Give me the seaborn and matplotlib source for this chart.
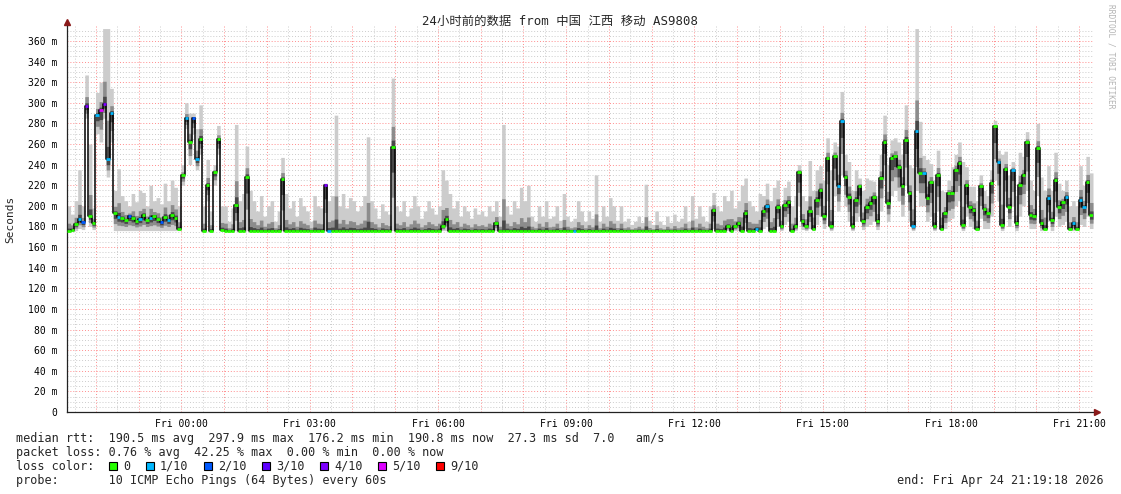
import numpy as np
import pandas as pd
import matplotlib
matplotlib.use('Agg')
import matplotlib.pyplot as plt
import matplotlib.dates as mdates
from matplotlib.ticker import MultipleLocator, FuncFormatter
from matplotlib.patches import Rectangle
import seaborn as sns

# one sample every 5 minutes, Thu 21:19 -> Fri 21:19 (values in ms)
rtt_median = [
    176, 177, 182, 187, 184, 297, 190, 183, 288, 293, 299, 245, 290,
    193, 189, 188, 186, 190, 188, 185, 187, 191, 186, 188, 190, 187, 184, 189, 186, 191, 188,
    178, 230, 285, 262, 285, 245, 265, 176, 220, 176, 233, 265, 177,
    176, 176, 176, 201, 176, 176, 228,
    176, 176, 176, 176, 176, 176, 176, 176, 176, 226,
    176, 176, 176, 176, 176, 176, 176, 176, 176, 176, 176, 220,
    176, 176, 176, 176, 176, 176, 176, 176, 176, 176, 176, 176, 176, 176, 176, 176, 176, 176, 257,
    176, 176, 176, 176, 176, 176, 176, 176, 176, 176, 176, 176, 176, 180, 187,
    176, 176, 176, 176, 176, 176, 176, 176, 176, 176, 176, 176, 176, 183,
    176, 176, 176, 176, 176, 176, 176, 176, 176, 176,
    176, 176, 176, 176, 176, 176, 176, 176, 176, 176,
    176, 176, 176, 176, 176, 176, 176, 176, 176, 176,
    176, 176, 176, 176, 176, 176, 176, 176, 176, 176,
    176, 176, 176, 176, 176, 176, 176, 176, 176, 176,
    176, 176, 176, 176, 176, 176, 176, 176, 176, 176,
    196, 176, 176, 176, 180, 176, 180, 183, 176, 193, 176, 176,
    178, 176, 195, 200, 176, 176, 199, 180, 201, 204, 176, 180,
    233, 185, 180, 195, 178, 206, 215, 190, 246, 180,
    248, 219, 282, 228, 209, 180, 206, 219, 185, 199,
    203, 209, 185, 227, 262, 203, 246, 248, 238, 219,
    264, 212, 180, 273, 232, 232, 208, 223, 180, 230,
    178, 193, 212, 212, 235, 242, 181, 220, 199, 196,
    178, 219, 197, 193, 222, 277, 243, 181, 236, 199,
    235, 183, 220, 230, 262, 191, 190, 256, 183, 178,
    208, 186, 225, 199, 204, 209, 178, 183, 178, 206,
    199, 223, 191,
]

rtt_low = [
    175, 175, 176, 178, 177, 285, 180, 177, 270, 262, 285, 228, 262,
    176, 176, 176, 176, 176, 176, 176, 176, 176, 176, 176, 176, 176, 176, 176, 176, 176, 176,
    176, 220, 275, 240, 270, 235, 250, 176, 205, 176, 220, 250, 176,
    176, 176, 176, 176, 176, 176, 176,
    176, 176, 176, 176, 176, 176, 176, 176, 176, 176,
    176, 176, 176, 176, 176, 176, 176, 176, 176, 176, 176, 176,
    176, 176, 176, 176, 176, 176, 176, 176, 176, 176, 176, 176, 176, 176, 176, 176, 176, 176, 176,
    176, 176, 176, 176, 176, 176, 176, 176, 176, 176, 176, 176, 176, 176, 176,
    176, 176, 176, 176, 176, 176, 176, 176, 176, 176, 176, 176, 176, 176,
    176, 176, 176, 176, 176, 176, 176, 176, 176, 176,
    176, 176, 176, 176, 176, 176, 176, 176, 176, 176,
    176, 176, 176, 176, 176, 176, 176, 176, 176, 176,
    176, 176, 176, 176, 176, 176, 176, 176, 176, 176,
    176, 176, 176, 176, 176, 176, 176, 176, 176, 176,
    176, 176, 176, 176, 176, 176, 176, 176, 176, 176,
    178, 176, 176, 176, 176, 176, 176, 176, 176, 178, 176, 176,
    176, 176, 178, 180, 176, 176, 180, 176, 182, 185, 176, 176,
    200, 177, 176, 178, 176, 182, 190, 178, 205, 176,
    210, 195, 230, 200, 185, 176, 185, 190, 177, 180,
    182, 185, 177, 195, 225, 185, 210, 215, 205, 190,
    220, 185, 176, 215, 200, 200, 185, 190, 176, 195,
    176, 178, 185, 188, 200, 205, 176, 190, 180, 178,
    176, 188, 178, 178, 190, 225, 205, 176, 200, 180,
    200, 176, 190, 200, 215, 178, 178, 210, 176, 176,
    185, 176, 190, 180, 182, 185, 176, 176, 176, 182,
    180, 190, 178,
]

rtt_high = [
    200, 192, 205, 235, 200, 327, 260, 198, 310, 320, 372, 372, 314,
    215, 236, 210, 205, 200, 212, 204, 215, 213, 200, 220, 205, 208, 202, 222, 205, 225, 218,
    200, 240, 300, 290, 290, 275, 298, 200, 245, 195, 240, 278, 200,
    200, 185, 198, 279, 205, 212, 258,
    215, 205, 195, 210, 190, 200, 205, 185, 195, 247,
    212, 198, 205, 190, 208, 200, 195, 185, 210, 200, 198, 222,
    205, 210, 288, 200, 212, 198, 208, 205, 195, 200, 210, 267, 205, 198, 188, 202, 195, 192, 324,
    200, 195, 205, 190, 198, 210, 200, 188, 195, 205, 198, 192, 200, 235, 225,
    212, 198, 205, 190, 200, 195, 188, 198, 192, 195, 190, 200, 195, 205,
    190, 279, 200, 192, 205, 198, 218, 205, 220, 190,
    185, 200, 190, 205, 188, 190, 200, 186, 212, 190,
    185, 188, 205, 195, 185, 195, 188, 230, 185, 200,
    190, 208, 200, 186, 200, 185, 188, 182, 185, 190,
    184, 221, 186, 182, 195, 185, 182, 190, 184, 192,
    185, 188, 200, 185, 210, 188, 200, 190, 185, 200,
    213, 200, 195, 210, 205, 215, 198, 205, 220, 227, 205, 200,
    195, 212, 210, 222, 205, 218, 225, 200, 218, 224, 200, 210,
    240, 210, 205, 244, 215, 235, 239, 225, 266, 235,
    262, 258, 311, 250, 243, 215, 235, 227, 215, 227,
    225, 224, 210, 250, 288, 240, 264, 266, 262, 250,
    298, 240, 237, 372, 282, 249, 245, 241, 225, 254,
    215, 214, 225, 238, 250, 262, 243, 238, 219, 219,
    205, 230, 215, 210, 235, 283, 254, 250, 253, 230,
    243, 210, 252, 248, 272, 225, 215, 280, 228, 215,
    239, 215, 252, 222, 215, 225, 200, 205, 200, 239,
    220, 248, 232,
]

# samples with packet loss (index into the series, lost pings out of 10)
loss_index = [3, 4, 5, 8, 9, 10, 11, 12, 14, 17, 20, 23, 26, 28, 33, 35, 36, 72, 73,
              142, 193, 196, 216, 217, 237, 238, 240, 261, 265, 275, 280, 282, 284, 285]
loss_count = [1, 2, 4, 1, 5, 4, 1, 1, 1, 2, 1, 1, 2, 1, 1, 2, 1, 4, 1,
              1, 1, 1, 1, 1, 1, 1, 1, 1, 1, 1, 1, 1, 1, 1]

loss_labels = ['0', '1/10', '2/10', '3/10', '4/10', '5/10', '9/10']
loss_colors = ['#26ff00', '#00b8ff', '#0059ff', '#5e00ff', '#7e00ff', '#dd00ff', '#ff0000']

title = '24小时前的数据 from 中国 江西 移动 AS9808'
line_rtt = 'median rtt:  190.5 ms avg  297.9 ms max  176.2 ms min  190.8 ms now  27.3 ms sd  7.0   am/s'
line_loss = 'packet loss: 0.76 % avg  42.25 % max  0.00 % min  0.00 % now'
line_probe = 'probe:       10 ICMP Echo Pings (64 Bytes) every 60s'
line_end = 'end: Fri Apr 24 21:19:18 2026'

sns.set_theme(style='white')
plt.rcParams['font.family'] = ['DejaVu Sans Mono', 'Noto Sans CJK SC']

W, H = 1121, 494
fig = plt.figure(figsize=(W / 100, H / 100), dpi=100)
ax = fig.add_axes([67 / W, 1 - 412 / H, (1093 - 67) / W, (412 - 26) / H])


def fx(px):
    return px / W


def fy(py):
    return 1 - py / H


med = np.array(rtt_median, dtype=float)
lo = np.array(rtt_low, dtype=float)
hi = np.array(rtt_high, dtype=float)

times = pd.date_range('2026-04-23 21:19:18', periods=len(med) + 1, freq='5min')
edges = mdates.date2num(times.to_pydatetime())


def ext(a):
    return np.append(a, a[-1])


# smoke: light outer range, darker bands closer to the median
bands = [(1.0, 1.0, '#cccccc'), (0.6, 0.3, '#8c8c8c'), (0.3, 0.1, '#484848')]
for f_lo, f_hi, col in bands:
    b_lo = med - f_lo * (med - lo)
    b_hi = med + f_hi * (hi - med)
    ax.fill_between(edges, ext(b_lo), ext(b_hi), step='post', color=col, lw=0, zorder=2)

sns.lineplot(x=edges, y=ext(med), drawstyle='steps-post', color='black', lw=1.1,
             estimator=None, ax=ax, zorder=3)

seg_colors = [loss_colors[0]] * len(med)
for i, n in zip(loss_index, loss_count):
    seg_colors[i] = loss_colors[n] if n <= 5 else loss_colors[6]
ax.hlines(med, edges[:-1], edges[1:], colors=seg_colors, lw=2.0, zorder=4)

ax.set_xlim(edges[0], edges[-1])
ax.set_ylim(0, 374.5)

ax.xaxis.set_major_locator(mdates.HourLocator(byhour=range(24)))
ax.xaxis.set_minor_locator(mdates.MinuteLocator(byminute=[30]))


def xfmt(v, pos):
    d = mdates.num2date(round(v * 24) / 24)
    return d.strftime('%a %H:%M') if d.hour % 3 == 0 else ''


ax.xaxis.set_major_formatter(FuncFormatter(xfmt))
ax.yaxis.set_major_locator(MultipleLocator(20))
ax.yaxis.set_minor_locator(MultipleLocator(5))
ax.yaxis.set_major_formatter(FuncFormatter(lambda v, p: '0' if v == 0 else f'{int(v)} m'))

ax.grid(which='major', color='#ff8c8c', lw=0.7, ls=(0, (1, 2)), zorder=0)
ax.grid(which='minor', color='#cccccc', lw=0.7, ls=(0, (1, 2)), zorder=0)
ax.set_axisbelow(True)

ax.tick_params(axis='both', which='major', labelsize=7, length=3, width=0.7, pad=2,
               colors='black')
ax.tick_params(axis='x', which='major', color='#ff8c8c')
ax.tick_params(axis='both', which='minor', length=2, color='#bbbbbb')
ax.tick_params(axis='y', which='major', color='#555555', pad=4)

for s in ['top', 'right']:
    ax.spines[s].set_visible(False)
for s in ['left', 'bottom']:
    ax.spines[s].set_color('#222222')
    ax.spines[s].set_linewidth(0.9)
ax.spines['bottom'].set_zorder(6)

ax.plot([0], [1.01], marker='^', ms=4, color='#8b1a1a', transform=ax.transAxes, clip_on=False)
ax.plot([1.004], [0], marker='>', ms=4, color='#8b1a1a', transform=ax.transAxes, clip_on=False)

ax.set_xlabel('')
ax.set_ylabel('')
fig.text(fx(10), fy(219), 'Seconds', rotation=90, ha='center', va='center', fontsize=8)
fig.text(0.5, fy(21), title, ha='center', va='center', fontsize=8.9)
fig.text(fx(1111), fy(4), 'RRDTOOL / TOBI OETIKER', rotation=270, ha='center', va='top',
         fontsize=5.7, color='#b4b4b4')

fs = 8.5
fig.text(fx(16), fy(438), line_rtt, ha='left', va='center', fontsize=fs)
fig.text(fx(16), fy(452), line_loss, ha='left', va='center', fontsize=fs)
fig.text(fx(16), fy(466), 'loss color:', ha='left', va='center', fontsize=fs)
fig.text(fx(16), fy(480), line_probe, ha='left', va='center', fontsize=fs)
fig.text(fx(1104), fy(480), line_end, ha='right', va='center', fontsize=fs)

swatch_px = [109, 146, 204, 262, 320, 378, 436]
for px, lab, col in zip(swatch_px, loss_labels, loss_colors):
    fig.add_artist(Rectangle((fx(px), fy(470)), 8 / W, 8 / H, transform=fig.transFigure,
                             facecolor=col, edgecolor='black', lw=0.8))
    fig.text(fx(px + 14), fy(466), lab, ha='left', va='center', fontsize=fs)

fig.savefig('out.png', dpi=100, facecolor='white')
